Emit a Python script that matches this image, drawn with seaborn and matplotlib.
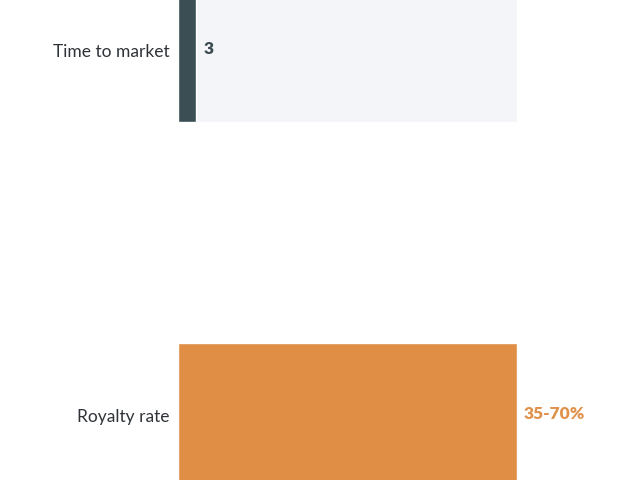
import numpy as np
import pandas as pd
import matplotlib
matplotlib.use("Agg")
import matplotlib.pyplot as plt
import seaborn as sns

# chart data
categories = ["Time to market", "Royalty rate"]
values = [3, 55]
value_labels = ["3", "35-70%"]
scale_max = 55
bar_colors = ["#3a4e54", "#e08e45"]
label_colors = ["#3a4a50", "#e0924c"]

df = pd.DataFrame({"Metric": categories, "Value": values,
                   "Track": [scale_max] * len(categories)})

sns.set_theme(style="white")
plt.rcParams["font.family"] = ["Lato", "DejaVu Sans"]

fig = plt.figure(figsize=(6.4, 4.8), dpi=100)
ax = fig.add_axes([178 / 640, 0, (517 - 178) / 640, 1])

# light track behind each bar
sns.barplot(data=df, y="Metric", x="Track", orient="h", color="#f3f5f8",
            width=0.395, saturation=1, ax=ax)
sns.barplot(data=df, y="Metric", x="Value", hue="Metric", orient="h",
            palette=bar_colors, width=0.395, saturation=1, legend=False, ax=ax)

for i, (v, lab) in enumerate(zip(values, value_labels)):
    ax.annotate(lab, xy=(v, i), xytext=(5, 1), textcoords="offset points",
                ha="left", va="center", fontsize=12.5, fontweight="heavy",
                color=label_colors[i])

ax.set_xlim(0, scale_max)
ax.set_ylim(1.178, -0.137)
ax.set_xlabel("")
ax.set_ylabel("")
ax.set_xticks([])
sns.despine(ax=ax, left=True, bottom=True)
ax.tick_params(axis="y", length=0, pad=6, labelsize=12.5, labelcolor="#2f3338")

fig.savefig("out.png", dpi=100)
